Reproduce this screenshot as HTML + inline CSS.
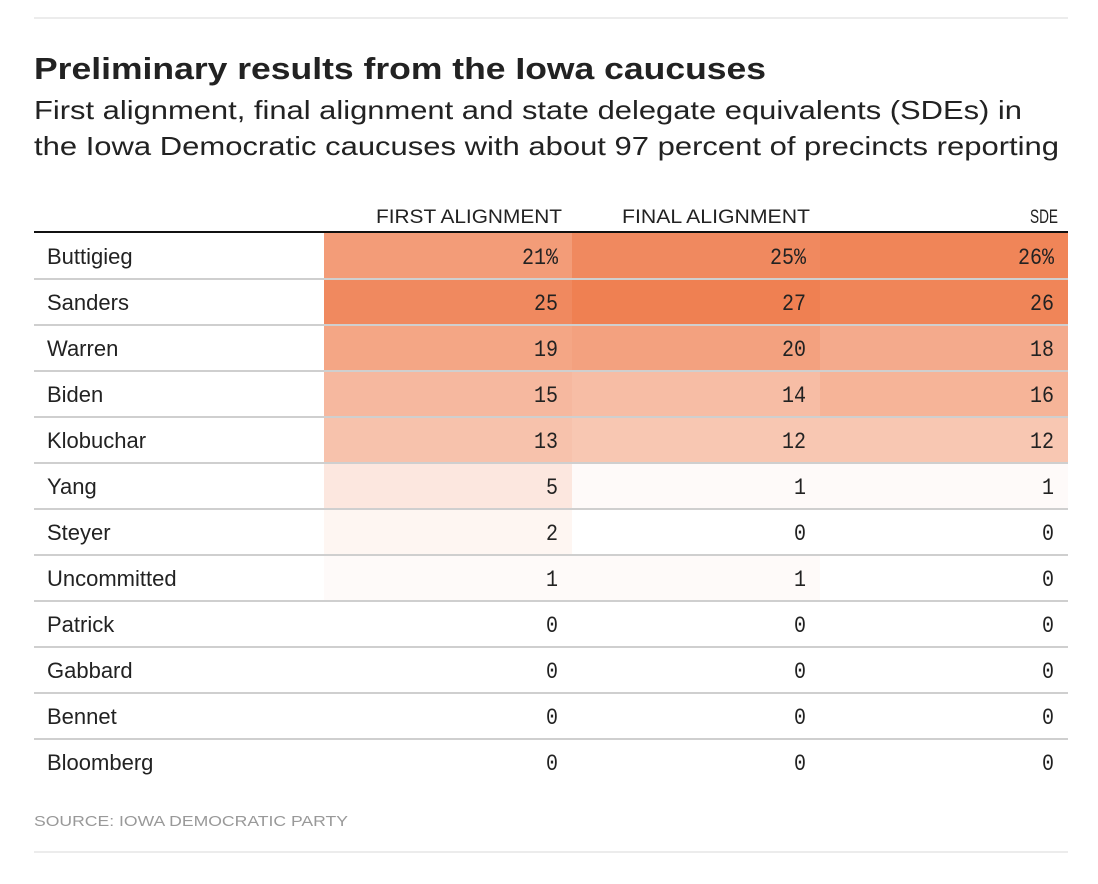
<!DOCTYPE html>
<html><head><meta charset="utf-8"><style>
html,body{margin:0;padding:0;background:#fff;}
svg{display:block;}
</style></head><body>
<svg id="chart" width="1098" height="884" xmlns="http://www.w3.org/2000/svg">
<rect x="34" y="17" width="1034" height="2" fill="#ececec"/>
<text x="34" y="79" font-family="Liberation Sans, sans-serif" font-weight="bold" font-size="31" fill="#222" textLength="732" lengthAdjust="spacingAndGlyphs">Preliminary results from the Iowa caucuses</text>
<text x="34" y="119" font-family="Liberation Sans, sans-serif" font-size="26" fill="#222" textLength="988" lengthAdjust="spacingAndGlyphs">First alignment, final alignment and state delegate equivalents (SDEs) in</text>
<text x="34" y="155" font-family="Liberation Sans, sans-serif" font-size="26" fill="#222" textLength="1025" lengthAdjust="spacingAndGlyphs">the Iowa Democratic caucuses with about 97 percent of precincts reporting</text>
<g id="table"></g>
<text x="34" y="826" font-family="Liberation Sans, sans-serif" font-size="15" fill="#999" textLength="314" lengthAdjust="spacingAndGlyphs">SOURCE: IOWA DEMOCRATIC PARTY</text>
<rect x="34" y="851" width="1034" height="2" fill="#ececec"/>
</svg>
<script>
const candidates = ["Buttigieg","Sanders","Warren","Biden","Klobuchar","Yang","Steyer","Uncommitted","Patrick","Gabbard","Bennet","Bloomberg"];
const firstAlignment = [21,25,19,15,13,5,2,1,0,0,0,0];
const finalAlignment = [25,27,20,14,12,1,0,1,0,0,0,0];
const sde = [26,26,18,16,12,1,0,0,0,0,0,0];
const columnLabels = ["FIRST ALIGNMENT","FINAL ALIGNMENT","SDE"];

const NS = "http://www.w3.org/2000/svg";
const g = document.getElementById("table");
const series = [firstAlignment, finalAlignment, sde];
const colX = [324, 572, 820], colW = 248, rowY0 = 233, rowH = 46;
function mk(tag, attrs){const e=document.createElementNS(NS,tag);for(const k in attrs)e.setAttribute(k,attrs[k]);g.appendChild(e);return e;}
function color(v){const t=Math.min(v/27,1);const c=[255+(239-255)*t,255+(128-255)*t,255+(82-255)*t].map(Math.round);return `rgb(${c[0]},${c[1]},${c[2]})`;}
const headerW=[186,188,28];
columnLabels.forEach((l,j)=>{
  const t=mk("text",{x:colX[j]+colW-10,y:223,"text-anchor":"end","font-family":"Liberation Sans, sans-serif","font-size":"19",fill:"#222",textLength:headerW[j],lengthAdjust:"spacingAndGlyphs"});
  t.textContent=l;
  
  
});
candidates.forEach((name,i)=>{
  const y=rowY0+i*rowH;
  series.forEach((s,j)=>{
    const r=mk("rect",{x:colX[j],y:y,width:colW,height:rowH,fill:color(s[i])});
    
    
    const txt=s[i]+(i===0?"%":"");
    const t=mk("text",{x:colX[j]+colW-14,y:y+31,"text-anchor":"end","font-family":"Liberation Mono, monospace","font-size":"23",fill:"#222",textLength:txt.length*12,lengthAdjust:"spacingAndGlyphs"});
    t.textContent=txt;
    
    
  });
  const n=mk("text",{x:47,y:y+31,"font-family":"Liberation Sans, sans-serif","font-size":"22",fill:"#222"});
  n.textContent=name;
  
  
  if(i>0){
    const l=mk("rect",{x:34,y:y-1,width:1034,height:2,fill:"#cfcfcf"});
    
    
  }
});
const hl=mk("rect",{x:34,y:231,width:1034,height:2,fill:"#111"});


</script>
</body></html>
